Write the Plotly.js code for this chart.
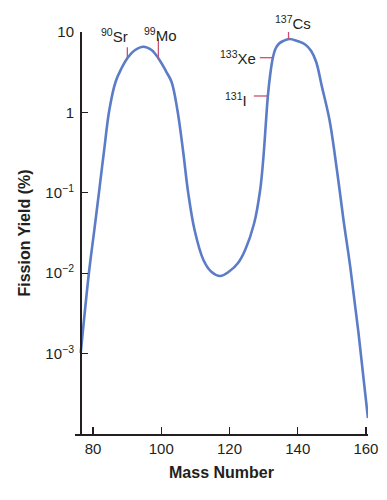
<!DOCTYPE html>
<html>
<head>
<meta charset="utf-8">
<script src="https://cdn.plot.ly/plotly-3.0.1.min.js"></script>
<style>html,body{margin:0;padding:0;background:#fff;}#chart{width:387px;height:500px;}</style>
</head>
<body>
<div id="chart"></div>
<script>
// Fission yield curve (mass number vs yield %)
const massNumber = [76.4, 78.83, 80.38, 81.76, 83.23, 84.78, 86.60, 88.21, 90.06, 92.35, 94.76, 97.16, 99.16, 101.41, 103.03, 104.73, 106.4, 107.87, 109.77, 112.36, 114.61, 117.25, 119.89, 122.45, 124.59, 127.23, 128.99, 129.96, 130.66, 131.25, 131.92, 132.71, 133.53, 134.56, 135.74, 137.58, 139.84, 142.19, 143.95, 145.42, 147.09, 149.32, 151.49, 153.42, 155.39, 157.82, 160.58];
const fissionYield = [0.00102, 0.01035, 0.0344, 0.102, 0.331, 1.07, 2.39, 3.44, 4.71, 5.97, 6.56, 5.97, 4.71, 3.24, 2.39, 1.07, 0.331, 0.102, 0.0344, 0.0146, 0.0105, 0.00923, 0.0105, 0.01327, 0.01945, 0.0418, 0.1084, 0.281, 0.731, 1.60, 2.92, 4.79, 6.24, 7.19, 7.73, 8.19, 7.73, 7.00, 5.81, 4.24, 2.09, 0.804, 0.192, 0.0459, 0.01205, 0.0018, 0.000158];

// Labelled nuclides
const nuclideNames = ['<sup>90</sup>Sr', '<sup>99</sup>Mo', '<sup>137</sup>Cs', '<sup>133</sup>Xe', '<sup>131</sup>I'];
const nuclideMass = [90.06, 99.16, 137.3, 132.71, 131.25];
const nuclideYield = [4.71, 4.71, 8.19, 4.79, 1.60];

// Axis ticks
const yTickVals = [0.001, 0.01, 0.1, 1, 10];
const yTickText = ['10<sup>\u22123</sup>', '10<sup>\u22122</sup>', '10<sup>\u22121</sup>', '1', '10'];
const xTickVals = [80, 100, 120, 140, 160];

// Style for the marker lines: direction and pixel length, plus label offsets
const markStyle = [
  {dir: 'v', len: 11, xs: -13, ys: 23, xa: 'center'},
  {dir: 'v', len: 20, xs: 2, ys: 24, xa: 'center'},
  {dir: 'v', len: 12, xs: 4, ys: 16, xa: 'center'},
  {dir: 'h', len: 13, xs: -15, ys: 0, xa: 'right'},
  {dir: 'h', len: 14, xs: -19, ys: -4, xa: 'right'}
];

const PX_PER_DEC = 80.4;   // pixels per decade on y
const PX_PER_UNIT = 3.41;  // pixels per mass unit on x

const traces = [{
  x: massNumber, y: fissionYield, type: 'scatter', mode: 'lines',
  line: {color: '#5b7cc7', width: 2.6, shape: 'spline', smoothing: 1},
  hoverinfo: 'skip', showlegend: false
}];

const annotations = [];
nuclideNames.forEach((name, i) => {
  const s = markStyle[i];
  const m = nuclideMass[i], v = nuclideYield[i];
  let xs, ys;
  if (s.dir === 'v') { xs = [m, m]; ys = [v, v * Math.pow(10, s.len / PX_PER_DEC)]; }
  else { xs = [m - s.len / PX_PER_UNIT, m]; ys = [v, v]; }
  traces.push({x: xs, y: ys, type: 'scatter', mode: 'lines',
    line: {color: '#c9506e', width: 1.3}, hoverinfo: 'skip', showlegend: false});
  annotations.push({
    x: m, y: Math.log10(v), xref: 'x', yref: 'y', text: name, showarrow: false,
    xanchor: s.xa, yanchor: 'middle', xshift: s.xs, yshift: s.ys,
    font: {family: 'Liberation Sans, Arial, sans-serif', size: 15, color: '#231f20'}
  });
});

const layout = {
  width: 387, height: 500,
  margin: {l: 75, r: 19, t: 32, b: 66},
  paper_bgcolor: '#ffffff', plot_bgcolor: '#ffffff',
  font: {family: 'Liberation Sans, Arial, sans-serif', size: 15, color: '#231f20'},
  showlegend: false,
  xaxis: {
    range: [74.72, 160.6], tickvals: xTickVals, ticks: 'inside', ticklen: 7, tickwidth: 1.3,
    tickcolor: '#231f20', showline: true, linecolor: '#231f20', linewidth: 1.5,
    showgrid: false, zeroline: false, tickfont: {size: 15},
    title: {text: '<b>Mass Number</b>', font: {size: 16}, standoff: 11}
  },
  yaxis: {
    type: 'log', range: [-4, 1], anchor: 'free', position: 0.0171,
    tickvals: yTickVals, ticktext: yTickText, ticks: 'inside', ticklen: 6, tickwidth: 1.3,
    tickcolor: '#231f20', showline: true, linecolor: '#231f20', linewidth: 1.5,
    showgrid: false, zeroline: false, tickfont: {size: 15}, ticklabelstandoff: 3,
    title: {text: '<b>Fission Yield (%)</b>', font: {size: 16}, standoff: 9}
  },
  annotations: annotations
};

Plotly.newPlot('chart', traces, layout, {displayModeBar: false, staticPlot: true});
</script>
</body>
</html>
